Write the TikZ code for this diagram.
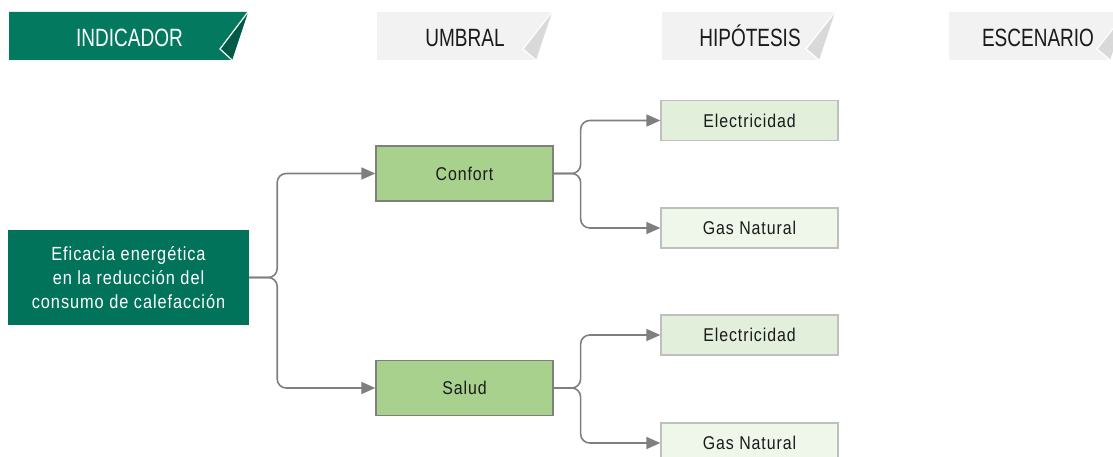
\documentclass[tikz,border=0pt]{standalone}
\usepackage{fontspec}
\setmainfont{Liberation Sans}[FakeStretch=0.86,LetterSpace=5]
\newfontfamily\hdrfont{Liberation Sans}[FakeStretch=0.76]
\usetikzlibrary{arrows.meta}
\definecolor{dkgreen}{HTML}{00735A}
\definecolor{bangreen}{HTML}{037A5F}
\definecolor{foldgreen}{HTML}{005A45}
\definecolor{banGray}{HTML}{F2F2F2}
\definecolor{foldGray}{HTML}{D9D9D9}
\definecolor{midGreen}{HTML}{A9D18E}
\definecolor{lightA}{HTML}{E2EFDA}
\definecolor{lightB}{HTML}{EFF6EA}
\definecolor{lineGray}{HTML}{7F7F7F}
\definecolor{boxLine}{HTML}{BFBFBF}
\definecolor{hdrText}{HTML}{1A1A1A}
\begin{document}
\begin{tikzpicture}[x=1pt,y=-1pt,
  hdr/.style={font=\hdrfont\fontsize{25}{28}\selectfont, inner sep=0pt, anchor=base},
  umbralbox/.style={draw=lineGray, line width=1.3pt, fill=midGreen, minimum width=177pt, minimum height=55pt, inner sep=0pt, font=\fontsize{18.5}{22}\selectfont, text=hdrText},
  hipbox/.style={draw=boxLine, line width=1.3pt, minimum width=177pt, minimum height=40pt, inner sep=0pt, font=\fontsize{18.5}{22}\selectfont, text=hdrText},
  conn/.style={draw=lineGray, line width=1.6pt, rounded corners=9pt, -{Triangle[length=14pt,width=12pt]}}
]
\useasboundingbox (0,0) rectangle (1113,457);

% header banners
\fill[bangreen] (9,12) -- (248,12) -- (232,60) -- (9,60) -- cycle;
\filldraw[fill=foldgreen, draw=white, line width=1.2pt, line join=miter] (248,12) -- (220,49) -- (232,60);
\node[hdr, text=white] (hind) at (129.5,47) {INDICADOR};

\fill[banGray] (377,12) -- (552,12) -- (536,60) -- (377,60) -- cycle;
\filldraw[fill=foldGray, draw=white, line width=1.2pt] (552,12) -- (523,49) -- (536,60);
\node[hdr, text=hdrText] (humb) at (465,47) {UMBRAL};

\fill[banGray] (662,12) -- (835,12) -- (819,60) -- (662,60) -- cycle;
\filldraw[fill=foldGray, draw=white, line width=1.2pt] (835,12) -- (806,49) -- (819,60);
\node[hdr, text=hdrText] (hhip) at (750,47) {HIPÓTESIS};

\fill[banGray] (949,12) -- (1126,12) -- (1110,60) -- (949,60) -- cycle;
\filldraw[fill=foldGray, draw=white, line width=1.2pt] (1126,12) -- (1097,49) -- (1110,60);
\node[hdr, text=hdrText] (hesc) at (1038,47) {ESCENARIO};

% main nodes
\node[fill=dkgreen, minimum width=241pt, minimum height=95pt, inner sep=0pt, text=white, align=center,
      font=\fontsize{19}{24}\selectfont] (ef) at (128.5,277.5)
      {Eficacia energética\\en la reducción del\\consumo de calefacción};

\node[umbralbox] (conf) at (464.5,173.5) {Confort};
\node[umbralbox] (sal) at (464.5,388) {Salud};

\node[hipbox, fill=lightA] (e1) at (749.5,120.5) {Electricidad};
\node[hipbox, fill=lightB] (g1) at (749.5,228) {Gas Natural};
\node[hipbox, fill=lightA] (e2) at (749.5,335) {Electricidad};
\node[hipbox, fill=lightB] (g2) at (749.5,443) {Gas Natural};

% connectors
\draw[conn] (ef.east) -- ++(28,0) |- (conf.west);
\draw[conn] (ef.east) -- ++(28,0) |- (sal.west);
\draw[conn] (conf.east) -- ++(27,0) |- (e1.west);
\draw[conn] (conf.east) -- ++(27,0) |- (g1.west);
\draw[conn] (sal.east) -- ++(27,0) |- (e2.west);
\draw[conn] (sal.east) -- ++(27,0) |- (g2.west);
\end{tikzpicture}
\end{document}
